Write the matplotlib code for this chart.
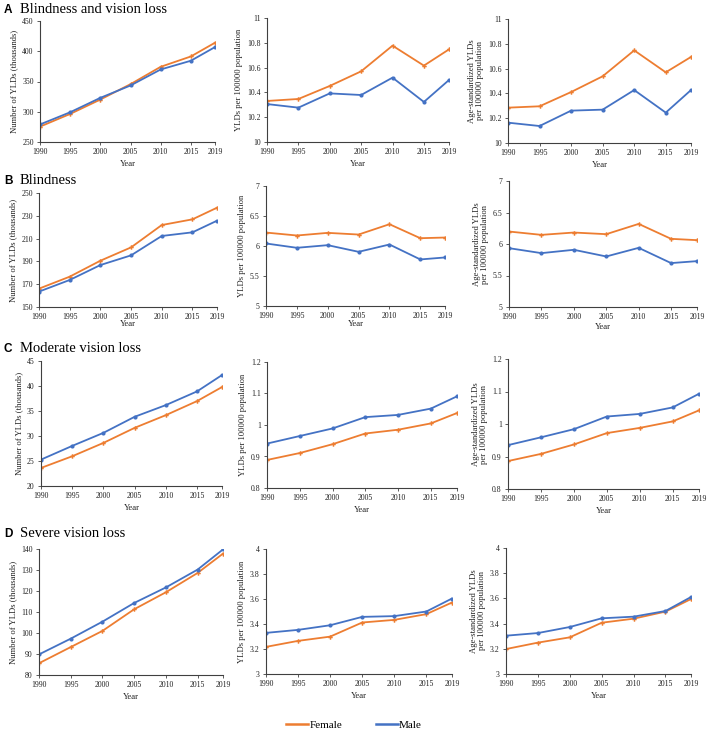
import matplotlib
matplotlib.use("Agg")
import matplotlib.pyplot as plt
from matplotlib.lines import Line2D
from matplotlib.ticker import FuncFormatter

plt.rcParams['font.family'] = ['Liberation Serif', 'DejaVu Serif']

years = [1990, 1995, 2000, 2005, 2010, 2015, 2019]

# A: Blindness and vision loss
a_num_f = [275.4, 296.4, 320.2, 345.6, 374.3, 391.4, 414.1]
a_num_m = [279.0, 299.2, 323.0, 343.4, 369.9, 384.3, 406.9]
a_rate_f = [10.331, 10.347, 10.452, 10.570, 10.777, 10.616, 10.747]
a_rate_m = [10.306, 10.277, 10.392, 10.379, 10.519, 10.323, 10.500]
a_asr_f = [10.285, 10.296, 10.411, 10.538, 10.747, 10.570, 10.694]
a_asr_m = [10.164, 10.137, 10.261, 10.269, 10.427, 10.245, 10.427]

# B: Blindness
b_num_f = [166.1, 176.6, 190.6, 202.3, 221.9, 226.9, 237.1]
b_num_m = [163.5, 173.7, 186.8, 195.3, 212.3, 215.5, 225.7]
b_rate_f = [6.224, 6.175, 6.219, 6.191, 6.363, 6.130, 6.141]
b_rate_m = [6.042, 5.970, 6.014, 5.903, 6.025, 5.776, 5.809]
b_asr_f = [6.198, 6.145, 6.182, 6.156, 6.319, 6.082, 6.061]
b_asr_m = [5.934, 5.855, 5.908, 5.802, 5.939, 5.697, 5.728]

# C: Moderate vision loss
c_num_f = [23.61, 25.95, 28.62, 31.63, 34.17, 36.98, 39.79]
c_num_m = [25.28, 28.02, 30.63, 33.84, 36.18, 38.92, 42.19]
c_rate_f = [0.889, 0.911, 0.939, 0.973, 0.985, 1.005, 1.038]
c_rate_m = [0.941, 0.965, 0.989, 1.025, 1.032, 1.052, 1.091]
c_asr_f = [0.886, 0.908, 0.937, 0.972, 0.988, 1.008, 1.042]
c_asr_m = [0.935, 0.959, 0.984, 1.023, 1.031, 1.051, 1.093]

# D: Severe vision loss
d_num_f = [85.6, 93.3, 101.0, 111.3, 119.4, 128.6, 137.8]
d_num_m = [89.8, 97.3, 105.4, 114.3, 121.7, 130.2, 139.8]
d_rate_f = [3.217, 3.265, 3.299, 3.412, 3.433, 3.479, 3.572]
d_rate_m = [3.329, 3.353, 3.390, 3.457, 3.463, 3.500, 3.604]
d_asr_f = [3.198, 3.249, 3.291, 3.407, 3.439, 3.495, 3.595]
d_asr_m = [3.304, 3.325, 3.373, 3.442, 3.455, 3.500, 3.611]

row_letters = ["A", "B", "C", "D"]
row_titles = ["Blindness and vision loss", "Blindness", "Moderate vision loss", "Severe vision loss"]
ylabels = ["Number of YLDs (thousands)", "YLDs per 100000 population",
           "Age-standardized YLDs\nper 100000 population"]

rows = [
    [(a_num_f, a_num_m, 250, 450, 50), (a_rate_f, a_rate_m, 10, 11, 0.2), (a_asr_f, a_asr_m, 10, 11, 0.2)],
    [(b_num_f, b_num_m, 150, 250, 20), (b_rate_f, b_rate_m, 5, 7, 0.5), (b_asr_f, b_asr_m, 5, 7, 0.5)],
    [(c_num_f, c_num_m, 20, 45, 5), (c_rate_f, c_rate_m, 0.8, 1.2, 0.1), (c_asr_f, c_asr_m, 0.8, 1.2, 0.1)],
    [(d_num_f, d_num_m, 80, 140, 10), (d_rate_f, d_rate_m, 3, 4, 0.2), (d_asr_f, d_asr_m, 3, 4, 0.2)],
]

# axes boxes in pixels: left, top, right, bottom
boxes = [
    [(40, 21, 215, 142), (267, 18, 449, 142), (508, 19, 691, 143)],
    [(39, 193, 217, 307), (266, 186, 445, 306), (509, 181, 697, 307)],
    [(41, 361, 222, 486), (267, 362, 457, 488), (508, 359, 699, 489)],
    [(39, 549, 223, 675), (266, 549, 452, 674), (506, 548, 691, 674)],
]
title_y = [13, 184, 352, 537]
xlabelpads = [[3, 3, 3], [-1, 0, 1], [3, 3, 3], [3, 3, 3]]

W, H = 708, 732
ORANGE = "#ED7D31"
BLUE = "#4472C4"
SPINE = "#404040"

fig = plt.figure(figsize=(W / 100, H / 100), dpi=100)

fmt = FuncFormatter(lambda v, p: "{:g}".format(round(v, 4)))

for r in range(4):
    for c in range(3):
        f, m, lo, hi, step = rows[r][c]
        l, t, rr, b = boxes[r][c]
        ax = fig.add_axes([l / W, 1 - b / H, (rr - l) / W, (b - t) / H])
        ax.plot(years, f, color=ORANGE, lw=1.3, marker="P", ms=3.2, mew=0)
        ax.plot(years, m, color=BLUE, lw=1.3, marker="o", ms=3, mew=0)
        ax.set_xlim(1990, 2019)
        ax.set_ylim(lo, hi)
        n = int(round((hi - lo) / step))
        ax.set_yticks([lo + i * step for i in range(n + 1)])
        ax.yaxis.set_major_formatter(fmt)
        ax.set_xticks(years)
        ax.set_xticklabels([str(y) for y in years])
        for s in ["top", "right"]:
            ax.spines[s].set_visible(False)
        for s in ["left", "bottom"]:
            ax.spines[s].set_color(SPINE)
            ax.spines[s].set_linewidth(0.8)
        ax.tick_params(axis="both", labelsize=5.6, length=2.5, width=0.6,
                       color=SPINE, pad=2, labelcolor="#222222")
        ax.set_xlabel("Year", fontsize=6.2, labelpad=xlabelpads[r][c], color="#222222")
        ax.set_ylabel(ylabels[c], fontsize=6.2, labelpad=3, color="#222222",
                      linespacing=1.0)

    fig.text(4 / W, 1 - title_y[r] / H, row_letters[r], fontsize=8.5,
             fontweight="bold", family=["Liberation Sans", "DejaVu Sans"],
             va="baseline", ha="left")
    fig.text(20 / W, 1 - title_y[r] / H, row_titles[r], fontsize=10.5,
             va="baseline", ha="left")

handles = [Line2D([], [], color=ORANGE, lw=1.8), Line2D([], [], color=BLUE, lw=1.8)]
fig.legend(handles, ["Female", "Male"], loc="center", bbox_to_anchor=(0.5, 1 - 725 / H),
           ncol=2, frameon=False, fontsize=8, handlelength=2.0, handletextpad=0.1,
           columnspacing=3.0)

fig.savefig("out.png", dpi=100)
